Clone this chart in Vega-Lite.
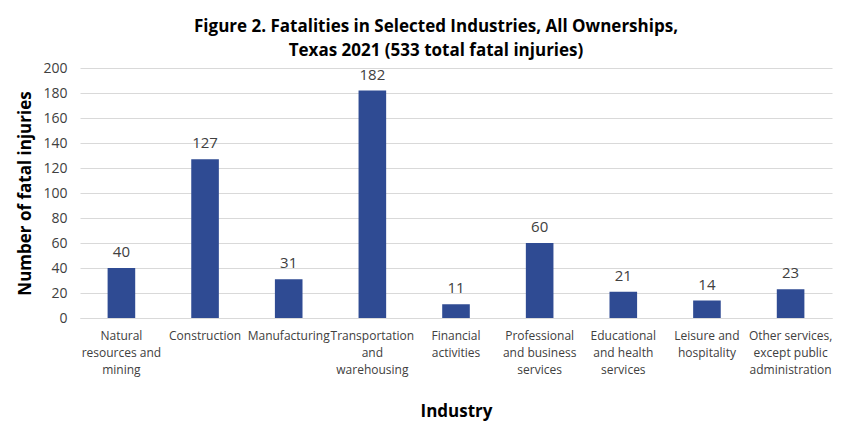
{
  "$schema": "https://vega.github.io/schema/vega-lite/v6.json",
  "width": 752,
  "height": 250,
  "autosize": {"type": "none"},
  "padding": {"left": 80, "top": 68, "right": 18, "bottom": 120},
  "background": "white",
  "config": {"view": {"stroke": null}, "font": "Open Sans"},
  "title": {
    "text": ["Figure 2. Fatalities in Selected Industries, All Ownerships,", "Texas 2021 (533 total fatal injuries)"],
    "fontSize": 17,
    "fontWeight": "bold",
    "font": "Open Sans",
    "color": "#000000",
    "anchor": "middle",
    "dx": -20,
    "offset": 1,
    "lineHeight": 24
  },
  "data": {
    "values": [
      {"industry": "Natural resources and mining", "fatalities": 40},
      {"industry": "Construction", "fatalities": 127},
      {"industry": "Manufacturing", "fatalities": 31},
      {"industry": "Transportation and warehousing", "fatalities": 182},
      {"industry": "Financial activities", "fatalities": 11},
      {"industry": "Professional and business services", "fatalities": 60},
      {"industry": "Educational and health services", "fatalities": 21},
      {"industry": "Leisure and hospitality", "fatalities": 14},
      {"industry": "Other services, except public administration", "fatalities": 23}
    ]
  },
  "encoding": {
    "x": {
      "field": "industry",
      "type": "nominal",
      "sort": null,
      "scale": {"paddingInner": 0.67, "paddingOuter": 0.33},
      "axis": {
        "title": "Industry",
        "titleFontSize": 17,
        "titleFontWeight": "bold",
        "titleColor": "#000000",
        "titlePadding": 28,
        "labelAngle": 0,
        "labelFontSize": 12,
        "labelColor": "#404040",
        "labelLineHeight": 17,
        "labelPadding": 12,
        "ticks": false,
        "domainColor": "#d9d9d9",
        "labelLimit": 200,
        "labelExpr": "datum.value == 'Natural resources and mining' ? ['Natural', 'resources and', 'mining'] : datum.value == 'Transportation and warehousing' ? ['Transportation', 'and', 'warehousing'] : datum.value == 'Financial activities' ? ['Financial', 'activities'] : datum.value == 'Professional and business services' ? ['Professional', 'and business', 'services'] : datum.value == 'Educational and health services' ? ['Educational', 'and health', 'services'] : datum.value == 'Leisure and hospitality' ? ['Leisure and', 'hospitality'] : datum.value == 'Other services, except public administration' ? ['Other services,', 'except public', 'administration'] : datum.value"
      }
    },
    "y": {
      "field": "fatalities",
      "type": "quantitative",
      "scale": {"domain": [0, 200]},
      "axis": {
        "title": "Number of fatal injuries",
        "titleFontSize": 17,
        "titleFontWeight": "bold",
        "titleColor": "#000000",
        "titlePadding": 8,
        "values": [0, 20, 40, 60, 80, 100, 120, 140, 160, 180, 200],
        "labelFontSize": 14,
        "labelColor": "#404040",
        "labelPadding": 13,
        "ticks": false,
        "domain": false,
        "gridColor": "#d9d9d9"
      }
    }
  },
  "layer": [
    {"mark": {"type": "bar", "color": "#2F4B93"}},
    {
      "mark": {"type": "text", "baseline": "bottom", "dy": -8, "fontSize": 15, "color": "#404040"},
      "encoding": {"text": {"field": "fatalities", "type": "quantitative"}}
    }
  ]
}
